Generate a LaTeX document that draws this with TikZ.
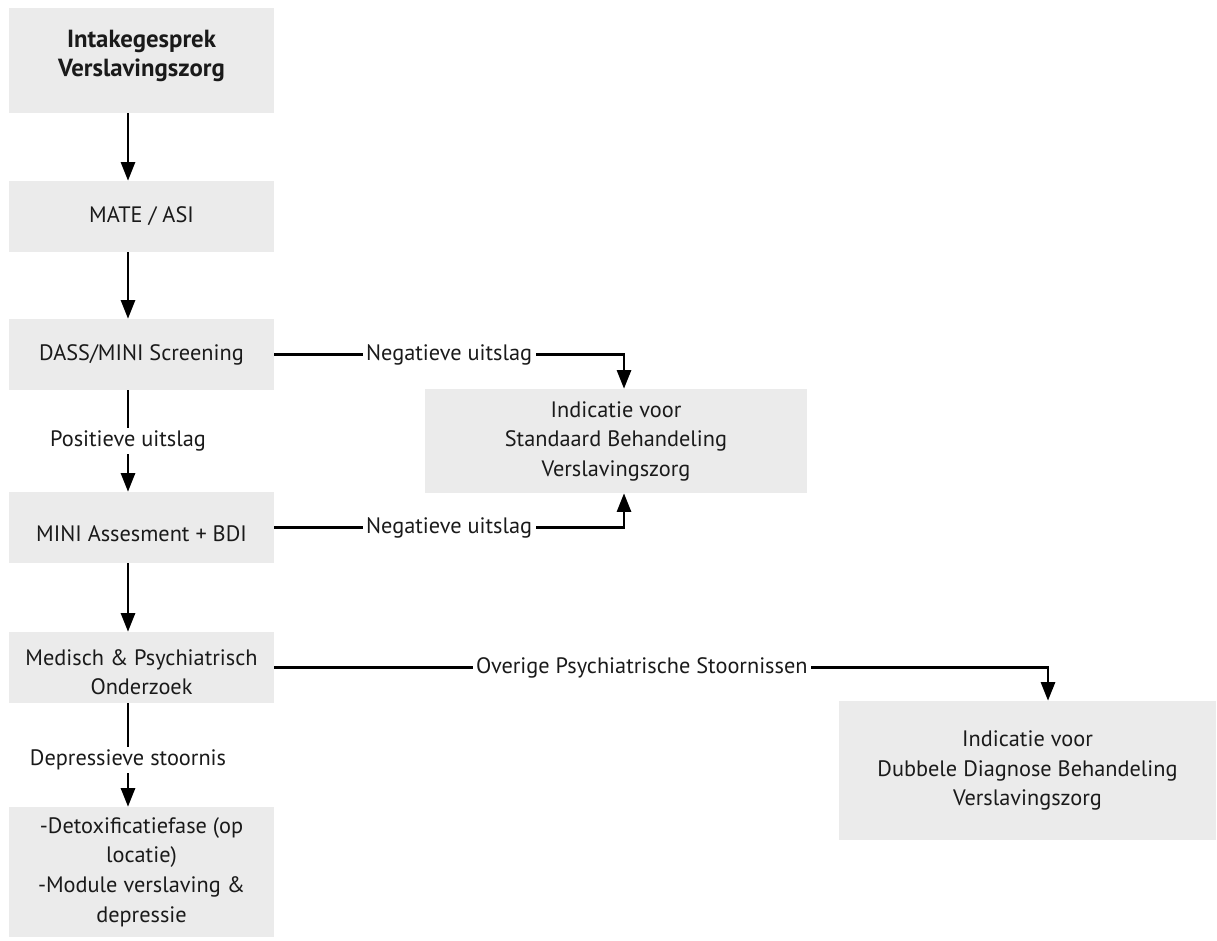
\documentclass[tikz,border=0pt]{standalone}
\usepackage{fontspec}
\setmainfont{PT Sans}
\usepackage{tikz}
\usepackage{xcolor}
\usetikzlibrary{arrows.meta, positioning, calc}

\definecolor{boxgray}{HTML}{EBEBEB}
\definecolor{inkblack}{HTML}{1A1A1A}

\begin{document}
\begin{tikzpicture}[x=0.02cm, y=-0.02cm,
    font=\fontsize{12.7}{16.8}\selectfont,
    box/.style={fill=boxgray, text=inkblack, align=center, inner sep=0pt,
                minimum width=5.3cm, minimum height=1.42cm},
    lbl/.style={fill=white, text=inkblack, inner xsep=2pt, inner ysep=1.5pt},
    arr/.style={-{Triangle[length=10.5pt, width=8pt]}, line width=1.35pt, black}]
    \useasboundingbox (0,0) rectangle (1217,940);

    % linker kolom
    \node[box, minimum height=2.1cm, text depth=8pt,
          font=\fontsize{14.1}{16.8}\selectfont\bfseries] (intake) at (141.5,60.5)
        {Intakegesprek\\Verslavingszorg};
    \node[box] (mate) at (141.5,216.5) {MATE / ASI};
    \node[box] (dass) at (141.5,354.5) {DASS/MINI Screening};
    \node[box, text height=16pt] (mini) at (141.5,527.5) {MINI Assesment + BDI};
    \node[box, text height=31pt] (medisch) at (141.5,667.5) {Medisch \& Psychiatrisch\\Onderzoek};
    \node[box, minimum height=2.6cm] (detox) at (141.5,872)
        {-Detoxificatiefase (op\\locatie)\\-Module verslaving \&\\depressie};

    % indicaties
    \node[box, minimum width=7.64cm, minimum height=2.08cm] (standaard) at (616,441)
        {Indicatie voor\\Standaard Behandeling\\Verslavingszorg};
    \node[box, minimum width=7.54cm, minimum height=2.78cm] (dubbel) at (1027.5,770.5)
        {Indicatie voor\\Dubbele Diagnose Behandeling\\Verslavingszorg};

    \coordinate (col) at (128,0);
    \coordinate (neg) at (624,0);
    \coordinate (ovr) at (1048,0);

    % pijlen omlaag
    \draw[arr] (intake.south -| col) -- (mate.north -| col);
    \draw[arr] (mate.south -| col) -- (dass.north -| col);
    \draw[arr] (dass.south -| col) -- node[lbl]{Positieve uitslag} (mini.north -| col);
    \draw[arr] (mini.south -| col) -- (medisch.north -| col);
    \draw[arr] (medisch.south -| col) -- node[lbl, pos=0.55]{Depressieve stoornis} (detox.north -| col);

    % zijtakken
    \draw[arr] (dass.east) -- node[lbl]{Negatieve uitslag} (dass.east -| neg) -- (standaard.north -| neg);
    \draw[arr] (mini.east) -- node[lbl]{Negatieve uitslag} (mini.east -| neg) -- (standaard.south -| neg);
    \draw[arr] (medisch.east) -- node[lbl, pos=0.475]{Overige Psychiatrische Stoornissen} (medisch.east -| ovr) -- (dubbel.north -| ovr);
\end{tikzpicture}
\end{document}
